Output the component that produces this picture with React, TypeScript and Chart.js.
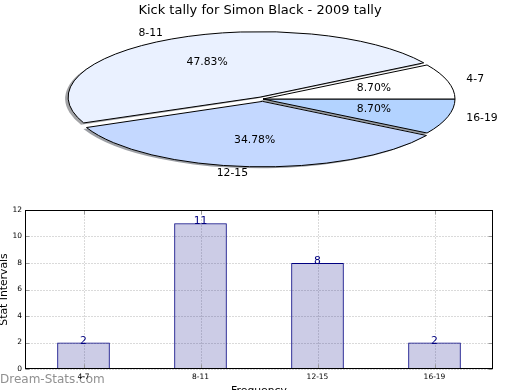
import React, { useEffect, useRef } from 'react';
import { Chart, registerables } from 'chart.js';

Chart.register(...registerables);

// ---------- data ----------
const TITLE = 'Kick tally for Simon Black - 2009 tally';
const CATEGORIES = ['4-7', '8-11', '12-15', '16-19'];
const COUNTS = [2, 11, 8, 2];
const PIE_COLORS = ['#ffffff', '#eaf1ff', '#c4d8ff', '#b3d3ff'];
const PIE_EXPLODE = [0, 25, 28, 0];
const Y_MAX = 12;
const Y_STEP = 2;
const X_TITLE = 'Frequency';
const Y_TITLE = 'Stat Intervals';
const WATERMARK = 'Dream-Stats.com';

// ---------- style / layout ----------
const FONT = "'DejaVu Sans', 'Liberation Sans', sans-serif";
const PIE_CY = 99;
const PIE_SQUASH = 0.341;
const PIE_R = 192;
const SHADOW_DX = -3;
const SHADOW_DY = 1.5;
const BAR_FILL = 'rgba(0,0,128,0.2)';
const BAR_EDGE = '#000080';

function shadowColor(hex: string) {
  const h = hex.replace('#', '');
  const r = parseInt(h.slice(0, 2), 16) * 0.3;
  const g = parseInt(h.slice(2, 4), 16) * 0.3;
  const b = parseInt(h.slice(4, 6), 16) * 0.3;
  return `rgba(${r.toFixed(0)},${g.toFixed(0)},${b.toFixed(0)},0.5)`;
}

const ORDER = [3, 2, 1, 0];

const piePlugin = {
  id: 'squashPie',
  beforeDatasetsDraw(chart: any) {
    const ctx = chart.ctx as CanvasRenderingContext2D;
    const meta = chart.getDatasetMeta(0);
    const ctrl: any = meta.controller;
    const R = ctrl.outerRadius;
    const arcs = meta.data as any[];
    const cy = arcs[0].y;
    arcs.forEach((a) => {
      const off = (a.options.offset || 0) / 4;
      const circ = a.endAngle - a.startAngle;
      const fix = 1 - Math.sin(Math.min(Math.PI, circ));
      a.outerRadius = R - off * fix;
    });
    // shadows
    ctx.save();
    ctx.translate(SHADOW_DX, SHADOW_DY);
    ctx.translate(0, PIE_CY);
    ctx.scale(1, PIE_SQUASH);
    ctx.translate(0, -cy);
    arcs.forEach((a) => {
      const off = (a.options.offset || 0) / 4;
      const mid = (a.startAngle + a.endAngle) / 2;
      const x = a.x + Math.cos(mid) * off;
      const y = a.y + Math.sin(mid) * off;
      ctx.beginPath();
      ctx.moveTo(x, y);
      ctx.arc(x, y, R, a.startAngle, a.endAngle);
      ctx.closePath();
      ctx.fillStyle = shadowColor(a.options.backgroundColor);
      ctx.fill();
    });
    ctx.restore();
    ctx.save();
    ctx.translate(0, PIE_CY);
    ctx.scale(1, PIE_SQUASH);
    ctx.translate(0, -cy);
    const proto = CanvasRenderingContext2D.prototype;
    const dpr = chart.currentDevicePixelRatio || 1;
    (ctx as any).stroke = function (...args: any[]) {
      this.save();
      this.setTransform(dpr, 0, 0, dpr, 0, 0);
      (proto.stroke as any).apply(this, args);
      this.restore();
    };
  },
  afterDatasetsDraw(chart: any) {
    const ctx = chart.ctx as CanvasRenderingContext2D;
    ctx.restore();
    delete (ctx as any).stroke;
  },
  afterDraw(chart: any) {
    const ctx = chart.ctx as CanvasRenderingContext2D;
    const meta = chart.getDatasetMeta(0);
    const R = (meta.controller as any).outerRadius;
    const arcs = meta.data as any[];
    const cy = arcs[0].y;
    const total = COUNTS.reduce((s, v) => s + v, 0);
    const toY = (y: number) => PIE_CY + (y - cy) * PIE_SQUASH;
    ctx.save();
    ctx.fillStyle = '#000';
    ctx.font = `10.8px ${FONT}`;
    arcs.forEach((a, j) => {
      const idx = ORDER[j];
      const off = (a.options.offset || 0) / 4;
      const mid = (a.startAngle + a.endAngle) / 2;
      const cx = a.x + Math.cos(mid) * off;
      const cyy = a.y + Math.sin(mid) * off;
      const c = Math.cos(mid);
      const s = Math.sin(mid);
      ctx.textBaseline = 'middle';
      ctx.textAlign = c > 0 ? 'left' : 'right';
      ctx.fillText(CATEGORIES[idx], cx + 1.1 * R * c, toY(cyy + 1.1 * R * s));
      ctx.textAlign = 'center';
      const pct = ((COUNTS[idx] / total) * 100).toFixed(2) + '%';
      ctx.fillText(pct, cx + 0.6 * R * c, toY(cyy + 0.6 * R * s));
    });
    ctx.font = `13px ${FONT}`;
    ctx.textAlign = 'center';
    ctx.textBaseline = 'middle';
    ctx.fillText(TITLE, chart.width / 2, 10.8);
    ctx.restore();
  },
};

const barPlugin = {
  id: 'mplAxes',
  beforeDatasetsDraw(chart: any) {
    const ctx = chart.ctx as CanvasRenderingContext2D;
    const ca = chart.chartArea;
    const x = chart.scales.x;
    const y = chart.scales.y;
    const L = Math.round(ca.left) + 0.5;
    const Rr = Math.round(ca.right) - 0.5;
    const T = Math.round(ca.top) + 0.5;
    const B = Math.round(ca.bottom) - 0.5;
    const line = (x1: number, y1: number, x2: number, y2: number) => {
      ctx.beginPath();
      ctx.moveTo(x1, y1);
      ctx.lineTo(x2, y2);
      ctx.stroke();
    };
    ctx.save();
    ctx.lineWidth = 1;
    ctx.strokeStyle = '#b4b4b4';
    ctx.setLineDash([1, 2]);
    y.ticks.forEach((_t: any, i: number) => {
      const py = Math.round(y.getPixelForTick(i)) + 0.5;
      line(L, py, Rr, py);
    });
    x.ticks.forEach((_t: any, i: number) => {
      const px = Math.round(x.getPixelForTick(i)) + 0.5;
      line(px, T, px, B);
    });
    ctx.restore();
  },
  afterDatasetsDraw(chart: any) {
    const ctx = chart.ctx as CanvasRenderingContext2D;
    const ca = chart.chartArea;
    const x = chart.scales.x;
    const y = chart.scales.y;
    const L = Math.round(ca.left) + 0.5;
    const Rr = Math.round(ca.right) - 0.5;
    const T = Math.round(ca.top) + 0.5;
    const B = Math.round(ca.bottom) - 0.5;
    const line = (x1: number, y1: number, x2: number, y2: number) => {
      ctx.beginPath();
      ctx.moveTo(x1, y1);
      ctx.lineTo(x2, y2);
      ctx.stroke();
    };
    ctx.save();
    ctx.lineWidth = 1;
    ctx.strokeStyle = '#999';
    y.ticks.forEach((_t: any, i: number) => {
      const py = Math.round(y.getPixelForTick(i)) + 0.5;
      line(L, py, L + 4, py);
      line(Rr - 4, py, Rr, py);
    });
    x.ticks.forEach((_t: any, i: number) => {
      const px = Math.round(x.getPixelForTick(i)) + 0.5;
      line(px, B, px, B - 4);
      line(px, T, px, T + 4);
    });
    ctx.strokeStyle = '#000';
    ctx.strokeRect(L, T, Rr - L, B - T);
    // value labels
    const meta = chart.getDatasetMeta(0);
    ctx.fillStyle = BAR_EDGE;
    ctx.font = `10.8px ${FONT}`;
    ctx.textAlign = 'center';
    ctx.textBaseline = 'alphabetic';
    meta.data.forEach((bar: any, i: number) => {
      ctx.fillText(String(COUNTS[i]), bar.x, bar.y + 1);
    });
    ctx.restore();
  },
};

export default function App() {
  const pieRef = useRef<HTMLCanvasElement>(null);
  const barRef = useRef<HTMLCanvasElement>(null);

  useEffect(() => {
    const pie = new Chart(pieRef.current as HTMLCanvasElement, {
      type: 'pie',
      data: {
        labels: ORDER.map((i) => CATEGORIES[i]),
        datasets: [
          {
            data: ORDER.map((i) => COUNTS[i]),
            backgroundColor: ORDER.map((i) => PIE_COLORS[i]),
            borderColor: '#000',
            borderWidth: 1,
            offset: ORDER.map((i) => PIE_EXPLODE[i]),
            hoverOffset: 0,
            clip: false,
          } as any,
        ],
      },
      options: {
        animation: false,
        responsive: false,
        events: [],
        rotation: 90,
        radius: PIE_R,
        layout: { padding: { left: 6, right: 0, top: 22, bottom: 0 } },
        plugins: {
          legend: { display: false },
          tooltip: { enabled: false },
          title: { display: false },
        },
      } as any,
      plugins: [piePlugin],
    });

    const bar = new Chart(barRef.current as HTMLCanvasElement, {
      type: 'bar',
      data: {
        labels: CATEGORIES,
        datasets: [
          {
            data: COUNTS,
            backgroundColor: BAR_FILL,
            borderColor: BAR_EDGE,
            borderWidth: 1,
            borderSkipped: false,
            barPercentage: 0.45,
            categoryPercentage: 1,
          } as any,
        ],
      },
      options: {
        animation: false,
        responsive: false,
        events: [],
        layout: { padding: { top: 10, right: 27, left: 0, bottom: 0 } },
        plugins: { legend: { display: false }, tooltip: { enabled: false } },
        scales: {
          x: {
            grid: { display: false, drawTicks: false },
            border: { display: false },
            ticks: { font: { family: FONT, size: 7.5 }, color: '#000', padding: 4, maxRotation: 0 },
            title: {
              display: true,
              text: X_TITLE,
              font: { family: FONT, size: 10.8 },
              color: '#000',
              padding: { top: 0, bottom: 2.5 },
            },
            afterFit: (s: any) => {
              s.height = 31;
            },
          },
          y: {
            min: 0,
            max: Y_MAX,
            grid: { display: false, drawTicks: false },
            border: { display: false },
            ticks: { stepSize: Y_STEP, font: { family: FONT, size: 7.5 }, color: '#000', padding: 3 },
            title: {
              display: true,
              text: Y_TITLE,
              font: { family: FONT, size: 10.8 },
              color: '#000',
              padding: { top: -2, bottom: 0 },
            },
            afterFit: (s: any) => {
              s.width = 25;
            },
          },
        },
      } as any,
      plugins: [barPlugin],
    });

    return () => {
      pie.destroy();
      bar.destroy();
    };
  }, []);

  return (
    <div
      style={{
        position: 'fixed',
        left: 0,
        top: 0,
        width: 520,
        height: 390,
        overflow: 'hidden',
        background: '#fff',
      }}
    >
      <canvas ref={pieRef} width={520} height={460} style={{ position: 'absolute', left: 0, top: 0 }} />
      <div
        style={{
          position: 'absolute',
          left: 0,
          top: 372,
          font: `12px ${FONT}`,
          lineHeight: '14px',
          color: '#909090',
          whiteSpace: 'nowrap',
        }}
      >
        {WATERMARK}
      </div>
      <canvas ref={barRef} width={520} height={200} style={{ position: 'absolute', left: 0, top: 200 }} />
    </div>
  );
}
